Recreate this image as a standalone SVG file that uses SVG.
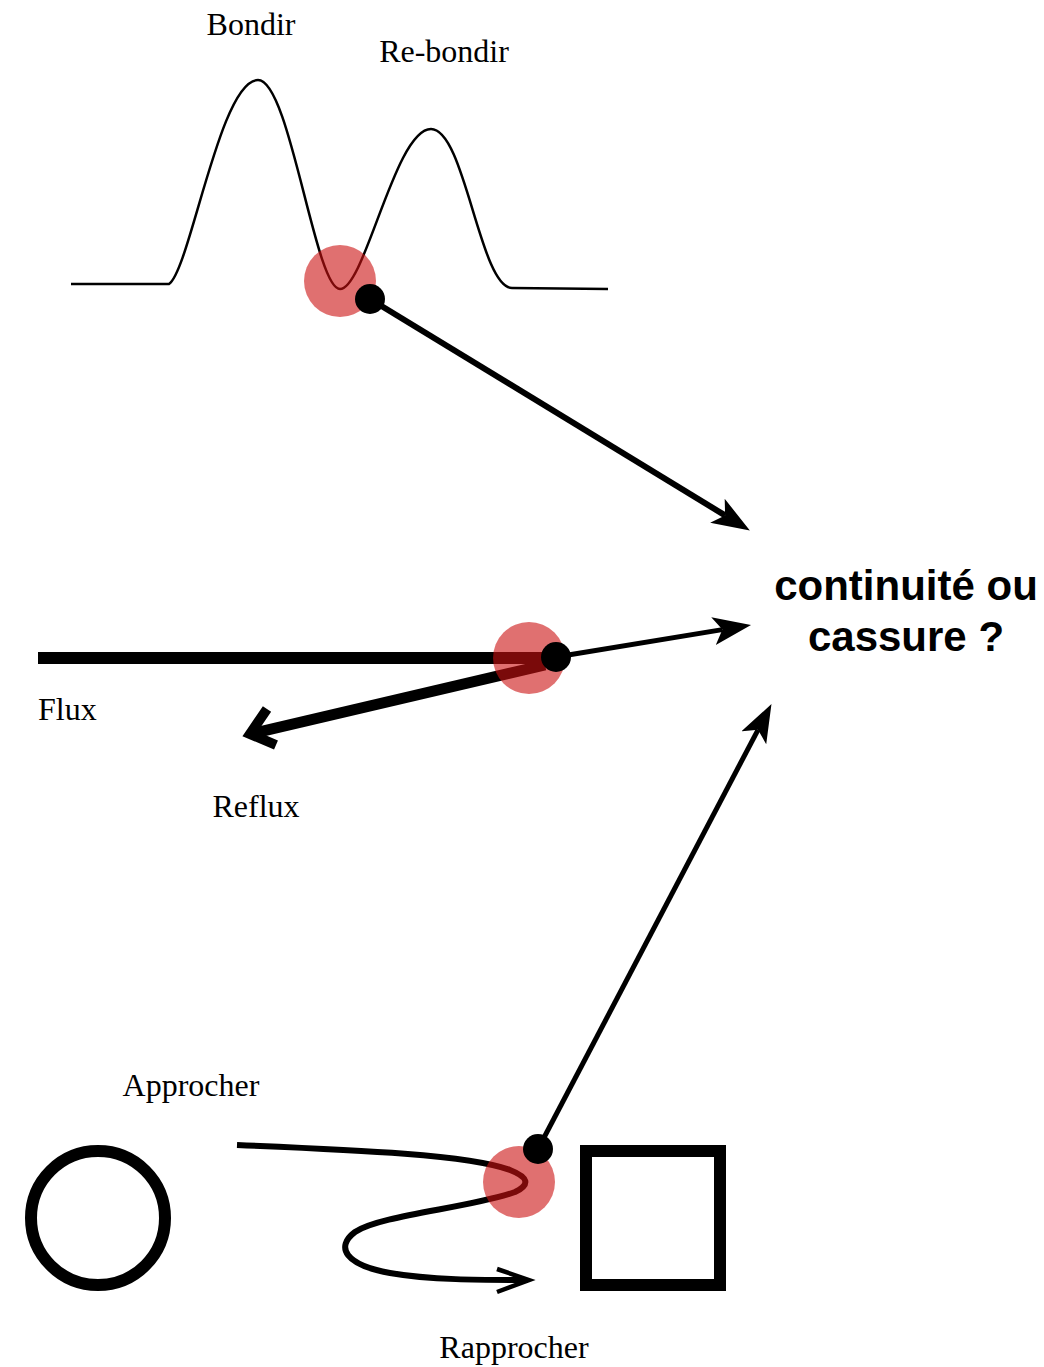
<svg xmlns="http://www.w3.org/2000/svg" width="1044" height="1367" viewBox="0 0 1044 1367">
<style>
.lbl{font-family:"Liberation Serif","Times New Roman",serif;font-size:32px;fill:#000;text-anchor:middle}
.big{font-family:"Liberation Sans",Arial,sans-serif;font-size:42px;font-weight:bold;fill:#000;text-anchor:middle}
.hl{fill:#cc1111;opacity:0.6}
.dot{fill:#000}
.ln{fill:none;stroke:#000;stroke-linecap:butt}
</style>
<defs>
<marker id="ah" markerUnits="userSpaceOnUse" markerWidth="38" markerHeight="28" viewBox="0 0 38 28" refX="9" refY="14" orient="auto">
<path d="M0,0 L38,14 L0,28 L9,14 z" fill="#000"/>
</marker>
</defs>
<rect width="1044" height="1367" fill="#fff"/>

<g id="bondir">
<path class="ln" stroke-width="2.5" d="M71,284 L169,284 C190,270 220,80 258,80 C290,80 315,289 340,289 C365,289 395,129 431,129 C465,129 480,288 512,288 L608,289"/>
<text class="lbl" x="251" y="35">Bondir</text>
<text class="lbl" x="444" y="62">Re-bondir</text>
</g>

<g id="flux">
<line class="ln" stroke-width="12" x1="38" y1="658" x2="545" y2="658"/>
<line class="ln" stroke-width="11" x1="545" y1="665" x2="255" y2="733"/>
<polyline class="ln" stroke-width="10" stroke-linejoin="miter" points="267,709 250,734 276,745"/>
<text class="lbl" x="38" y="720" style="text-anchor:start">Flux</text>
<text class="lbl" x="256" y="817">Reflux</text>
</g>

<g id="approcher">
<circle class="ln" stroke-width="12" cx="98" cy="1218" r="67"/>
<rect class="ln" stroke-width="12" x="586" y="1151" width="134" height="134"/>
<path class="ln" stroke-width="6" d="M237,1145 C360,1150 470,1155 510,1170 Q538,1181 515,1192 C470,1208 380,1215 355,1232 C335,1247 345,1265 390,1273 C430,1280 480,1280 526,1280"/>
<polyline class="ln" stroke-width="4.5" stroke-linejoin="miter" points="497,1269 529,1280 497,1292"/>
<text class="lbl" x="191" y="1096">Approcher</text>
<text class="lbl" x="514" y="1358">Rapprocher</text>
</g>

<g id="highlights">
<circle class="hl" cx="340" cy="281" r="36"/>
<circle class="hl" cx="529" cy="658" r="36"/>
<circle class="hl" cx="519" cy="1182" r="36"/>
</g>

<g id="question">
<text class="big" x="906" y="600">continuité ou</text>
<text class="big" x="906" y="651">cassure ?</text>
</g>

<g id="connectors">
<line class="ln" stroke-width="6" x1="370" y1="299" x2="725.1" y2="515.4" marker-end="url(#ah)"/>
<line class="ln" stroke-width="5" x1="556" y1="657" x2="722.4" y2="629.6" marker-end="url(#ah)"/>
<line class="ln" stroke-width="5" x1="538" y1="1149" x2="758" y2="729.8" marker-end="url(#ah)"/>
<circle class="dot" cx="370" cy="299" r="15"/>
<circle class="dot" cx="556" cy="657" r="15"/>
<circle class="dot" cx="538" cy="1149" r="15"/>
</g>
</svg>
